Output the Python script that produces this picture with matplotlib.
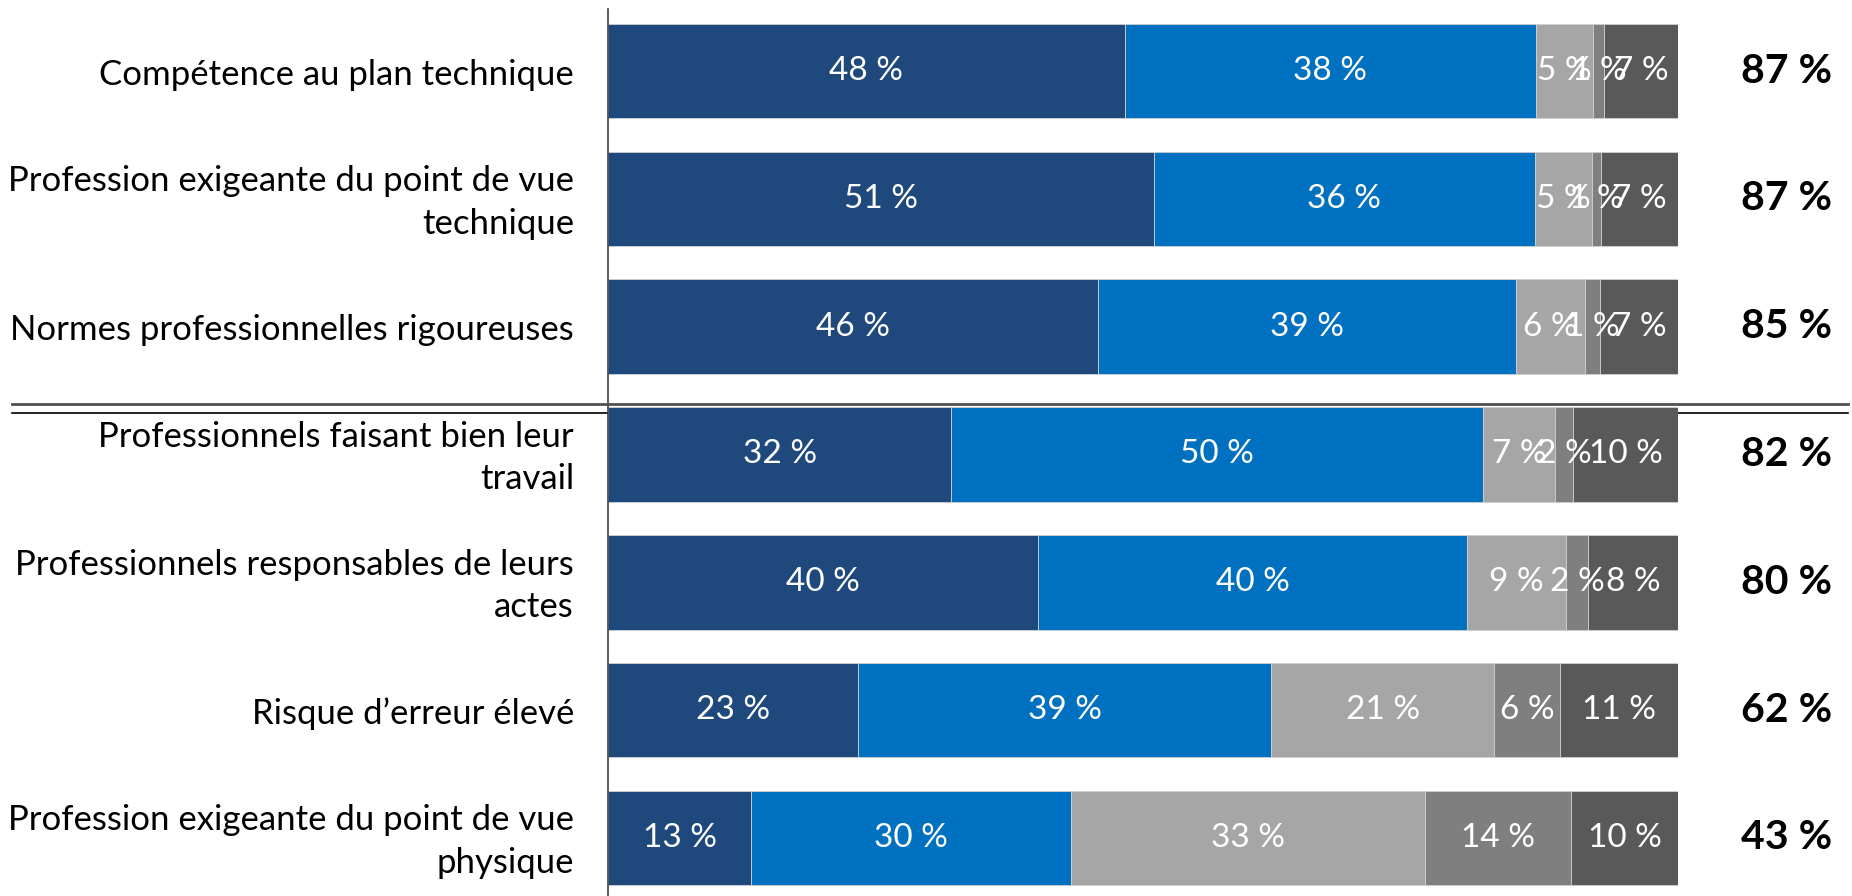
import numpy as np
import matplotlib.pyplot as plt
from matplotlib.transforms import blended_transform_factory

plt.rcParams['font.family'] = ['Lato', 'DejaVu Sans']

# données (en %, largeurs des segments estimées)
categories = [
    'Compétence au plan technique',
    'Profession exigeante du point de vue\ntechnique',
    'Normes professionnelles rigoureuses',
    'Professionnels faisant bien leur\ntravail',
    'Professionnels responsables de leurs\nactes',
    'Risque d\u2019erreur élevé',
    'Profession exigeante du point de vue\nphysique',
]
tout_a_fait = [48.3, 51.0, 45.8, 32.1, 40.2, 23.4, 13.4]
plutot_oui = [38.4, 35.6, 39.1, 49.7, 40.2, 38.6, 29.9]
plutot_non = [5.4, 5.4, 6.4, 6.7, 9.2, 20.8, 33.1]
pas_du_tout = [1.0, 0.8, 1.4, 1.7, 2.1, 6.2, 13.6]
ne_sait_pas = [6.9, 7.2, 7.3, 9.8, 8.4, 11.0, 10.0]
totaux = [87, 87, 85, 82, 80, 62, 43]

series = [tout_a_fait, plutot_oui, plutot_non, pas_du_tout, ne_sait_pas]
couleurs = ['#1F497D', '#0070C0', '#A6A6A6', '#7F7F7F', '#595959']

W, H = 1852, 896
fig = plt.figure(figsize=(W / 100, H / 100), dpi=100)
ax = fig.add_axes([608 / W, 0, (1678 - 608) / W, 1])

data = np.array(series, dtype=float)
somme = data.sum(axis=0)
y = np.arange(len(categories))
left = np.zeros(len(categories))
for vals, col in zip(data, couleurs):
    w = vals / somme
    ax.barh(y, w, left=left, height=0.74, color=col,
            edgecolor='#D0D0D0', linewidth=0.6, zorder=2)
    for yi, li, wi, v in zip(y, left, w, vals):
        ax.text(li + wi / 2, yi, f'{v:.0f} %', ha='center', va='center',
                color='white', fontsize=24, zorder=4)
    left += w

ax.set_xlim(0, 1)
ax.set_ylim(6.455, -0.556)
ax.axis('off')

# étiquettes de catégories
for yi, lab in zip(y, categories):
    ax.text(-34 / 1070, yi + 0.03, lab, ha='right', va='center', fontsize=25,
            multialignment='right', linespacing=1.4)

# totaux à droite
tr = blended_transform_factory(fig.transFigure, ax.transData)
for yi, t in zip(y, totaux):
    ax.text(1787 / W, yi, f'{t} %', transform=tr, ha='center', va='center',
            fontsize=29.5, fontweight='bold', color='black')

# axe vertical
ax.plot([0, 0], [0, 1 - 9 / H], transform=ax.transAxes, color='#404040',
        lw=1.2, clip_on=False, zorder=3)

# double ligne de séparation
ax.plot([12 / W, 1848 / W], [1 - 413 / H] * 2, transform=fig.transFigure,
        color='black', lw=1.2, clip_on=False, zorder=1)
ax.plot([12 / W, 1848 / W], [1 - 404.5 / H] * 2, transform=fig.transFigure,
        color='#505050', lw=2, clip_on=False, zorder=3)

fig.savefig('out.png', dpi=100)
